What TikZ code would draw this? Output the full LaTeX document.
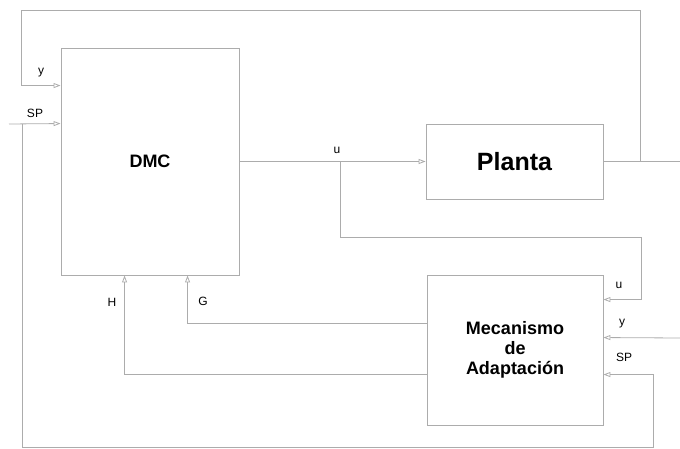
\documentclass[tikz,border=0pt]{standalone}
\usepackage{fontspec}
\setmainfont{Liberation Sans}
\usetikzlibrary{positioning,arrows.meta,calc}

\begin{document}
\begin{tikzpicture}[
          x=1pt, y=-1pt,
          blk/.style={draw=gray!65, line width=0.9pt, fill=white, inner sep=0pt},
          wire/.style={draw=gray!65, line width=0.8pt},
          sig/.style={wire, -{Triangle[open, length=7pt, width=5pt]}},
          lbl/.style={font=\fontsize{12}{14}\selectfont}
      ]
        \useasboundingbox (0,0) rectangle (680,449);
        % bloques
        \node[blk, minimum width=178pt, minimum height=227pt,
              font=\fontsize{18}{20}\selectfont\bfseries] (dmc) at (150,161.5) {DMC};
        \node[blk, minimum width=177pt, minimum height=75pt,
              font=\fontsize{25}{28}\selectfont\bfseries] (planta) at (514.5,161.5) {Planta};
        \node[blk, minimum width=176pt, minimum height=150pt, align=center,
              font=\fontsize{18}{20}\selectfont\bfseries] (mec) at (515,350) {Mecanismo\\de\\Adaptación};
        % puntos de las conexiones
        \coordinate (yout) at (680,161.5);
        \coordinate (ytap) at (640,161.5);
        \coordinate (ytop) at (21,10);
        \coordinate (yin) at ($(dmc.north west)+(0,38)$);
        \coordinate (spsrc) at (9,124);
        \coordinate (sptap) at (22,124);
        \coordinate (spin) at ($(dmc.north west)+(0,76)$);
        \coordinate (spbot) at (653,447);
        \coordinate (spmec) at ($(mec.north east)+(0,100)$);
        \coordinate (utap) at (340,161.5);
        \coordinate (uturn) at (641,237);
        \coordinate (umec) at ($(mec.north east)+(0,25)$);
        \coordinate (yright) at (680,338);
        \coordinate (ymec) at ($(mec.north east)+(0,63)$);
        \coordinate (gout) at ($(mec.north west)+(0,49)$);
        \coordinate (gin) at ($(dmc.south west)+(127,0)$);
        \coordinate (hout) at ($(mec.north west)+(0,100)$);
        \coordinate (hin) at ($(dmc.south west)+(64,0)$);
        % conexiones
        \draw[sig] (dmc.east) -- (planta.west);
        \draw[wire] (planta.east) -- (yout);
        \draw[sig] (ytap) -- (ytap |- ytop) -- (ytop) |- (yin);
        \draw[sig] (spsrc) -- (spin);
        \draw[sig] (sptap) |- (spbot) |- (spmec);
        \draw[sig] (utap) |- (uturn) |- (umec);
        \draw[sig] (yright) -- (ymec);
        \draw[sig] (gout) -| (gin);
        \draw[sig] (hout) -| (hin);
        % etiquetas
        \node[lbl] (ylbl) at (41,73) {y};
        \node[lbl] (splbl) at (35,113) {SP};
        \node[lbl] (ulbl) at (337,150) {u};
        \node[lbl] (umlbl) at (619,285) {u};
        \node[lbl] (ymlbl) at (622,324) {y};
        \node[lbl] (spmlbl) at (624,357) {SP};
        \node[lbl] (hlbl) at (112,302) {H};
        \node[lbl] (glbl) at (203,301) {G};
      \end{tikzpicture}
\end{document}
